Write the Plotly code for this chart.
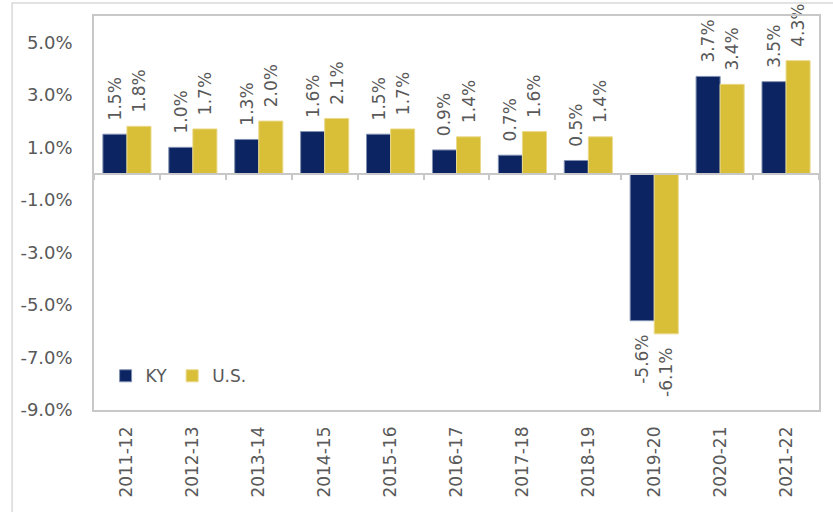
import plotly.graph_objects as go

# Fiscal years and annual growth rates (%)
years = ['2011-12', '2012-13', '2013-14', '2014-15', '2015-16', '2016-17',
         '2017-18', '2018-19', '2019-20', '2020-21', '2021-22']
ky_growth = [1.5, 1.0, 1.3, 1.6, 1.5, 0.9, 0.7, 0.5, -5.6, 3.7, 3.5]
us_growth = [1.8, 1.7, 2.0, 2.1, 1.7, 1.4, 1.6, 1.4, -6.1, 3.4, 4.3]
y_ticks = [5, 3, 1, -1, -3, -5, -7, -9]

navy = '#0C2461'
gold = '#D9BE38'
grey_text = '#595959'
font_family = 'DejaVu Sans'


def bar_labels(values):
    # pad labels with spaces on the bar side so they sit a little off the bar end
    pad = '\u00a0\u00a0'
    return [pad + f'{v:.1f}%' if v >= 0 else f'{v:.1f}%' + pad for v in values]


fig = go.Figure()

for name, values, color, edge in [('KY', ky_growth, navy, '#8090B0'),
                                  ('U.S.', us_growth, gold, '#EAD98A')]:
    fig.add_trace(go.Bar(
        x=years, y=values, name=name,
        marker=dict(color=color, line=dict(color=edge, width=1)),
        text=bar_labels(values),
        textposition='outside', textangle=-90, constraintext='none',
        textfont=dict(size=17, color=grey_text, family=font_family),
        cliponaxis=False,
    ))

# invisible helper trace so the zero-line axis gets its category ticks
fig.add_trace(go.Scatter(
    x=years, y=[0] * len(years), xaxis='x2', mode='lines',
    line=dict(width=0), hoverinfo='skip', showlegend=False,
))

y_min, y_max = -9, 6

fig.update_layout(
    width=833, height=512,
    margin=dict(l=94, r=14, t=16, b=102),
    paper_bgcolor='white', plot_bgcolor='white',
    barmode='group', bargap=0.27, bargroupgap=0,
    font=dict(family=font_family, color=grey_text),
    showlegend=True,
    legend=dict(
        orientation='h', x=0.016, y=0.04, xanchor='left', yanchor='bottom',
        font=dict(size=17, color=grey_text, family=font_family),
        bgcolor='rgba(0,0,0,0)', traceorder='normal',
    ),
    xaxis=dict(
        type='category', categoryorder='array', categoryarray=years,
        range=[-0.5, len(years) - 0.5],
        tickangle=-90, tickfont=dict(size=17, color=grey_text), ticklabelstandoff=8,
        ticks='', showline=True, linecolor='#C8C8C8', linewidth=1.5, mirror=True,
        showgrid=False, zeroline=False,
    ),
    xaxis2=dict(
        type='category', categoryorder='array', categoryarray=years,
        range=[-0.5, len(years) - 0.5],
        overlaying='x', anchor='free', position=(0 - y_min) / (y_max - y_min),
        showticklabels=False, ticks='outside', tickson='boundaries', ticklen=6,
        tickcolor='#C8C8C8', tickwidth=1.5,
        showline=True, linecolor='#C8C8C8', linewidth=1.5,
        showgrid=False, zeroline=False,
    ),
    yaxis=dict(
        range=[y_min, y_max], tickvals=y_ticks,
        ticktext=[f'{v:.1f}%' for v in y_ticks],
        tickfont=dict(size=18, color=grey_text), ticks='', ticklabelstandoff=16,
        showline=True, linecolor='#C8C8C8', linewidth=1.5, mirror=True,
        showgrid=False, zeroline=False,
    ),
    shapes=[dict(
        type='rect', xref='paper', yref='paper',
        x0=-0.113, x1=1.1, y0=-0.5, y1=1.033,
        line=dict(color='#D9D9D9', width=1.5), layer='below',
    )],
)

# drop the browser's default body margin so the figure fills the window exactly
fig.write_html("out.html", config={'displayModeBar': False},
               post_script="document.body.style.margin='0';")
